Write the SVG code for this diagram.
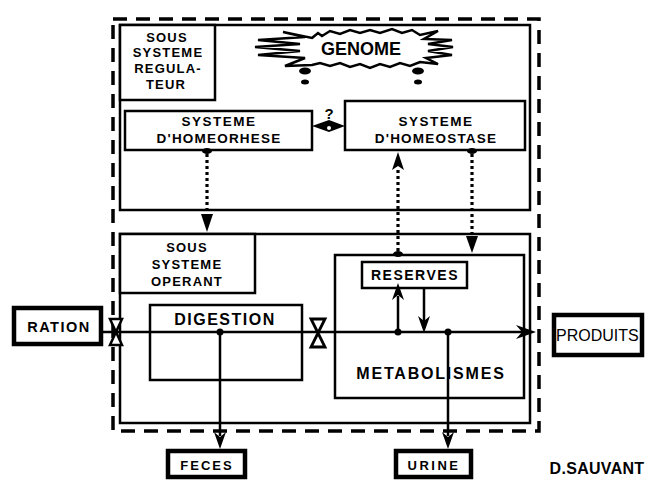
<svg xmlns="http://www.w3.org/2000/svg" width="655" height="480" viewBox="0 0 655 480">
<style>
.bx{fill:#fff;stroke:#000;stroke-width:2.5}
.tb{fill:#fff;stroke:#000;stroke-width:4.5}
.ln{fill:none;stroke:#000;stroke-width:2.5}
.dt{fill:none;stroke:#000;stroke-width:3.2;stroke-dasharray:3 3}
.t{font-family:"Liberation Sans",Arial,sans-serif;font-weight:bold;fill:#000;text-anchor:middle}
.hd{fill:#000}
</style>
<rect width="655" height="480" fill="#fff"/>
<rect id="frontiere" x="113" y="19" width="426" height="412" fill="none" stroke="#000" stroke-width="3.5" stroke-dasharray="14 9"/>
<g id="regulateur">
<rect class="bx" x="120" y="25" width="410" height="185"/>
<rect class="bx" x="120" y="25" width="95" height="75"/>
<text class="t" font-size="13" letter-spacing="1.2" x="167" y="42">SOUS</text>
<text class="t" font-size="13" letter-spacing="1.2" x="168" y="57">SYSTEME</text>
<text class="t" font-size="13" letter-spacing="1.2" x="168" y="73">REGULA-</text>
<text class="t" font-size="13" letter-spacing="1.2" x="166" y="89">TEUR</text>
</g>
<g id="genome">
<path d="M312,38 L318,33 322,36 330,31 340,34 350,30 360,33 370,30 380,33 392,29 402,33 412,30 420,35 L438,31 424,39 452,40 428,44 453,47 428,51 452,55 426,58 438,64 420,62 L410,66 400,63 390,67 380,64 370,68 360,64 350,67 340,63 330,66 320,63 312,65 L285,66 305,58 258,55 300,51 255,47 300,44 258,40 305,37 283,32 Z" fill="#fff" stroke="#000" stroke-width="2.5" stroke-linejoin="miter"/>
<text class="t" font-size="18" x="361" y="55">GENOME</text>
<ellipse cx="305" cy="71" rx="6" ry="3.5"/>
<ellipse cx="305" cy="82" rx="4" ry="2.5"/>
<ellipse cx="418" cy="71" rx="6" ry="3.5"/>
<ellipse cx="418" cy="82" rx="4" ry="2.5"/>
</g>
<g id="homeorhese">
<rect class="bx" x="125" y="111" width="187" height="39"/>
<text class="t" font-size="13.5" letter-spacing="1.5" x="219" y="126">SYSTEME</text>
<text class="t" font-size="13.5" letter-spacing="1.2" x="219" y="143">D'HOMEORHESE</text>
</g>
<g id="homeostase">
<rect class="bx" x="345" y="101" width="180" height="49"/>
<text class="t" font-size="13.5" letter-spacing="1.5" x="436" y="126">SYSTEME</text>
<text class="t" font-size="13.5" letter-spacing="1.2" x="436" y="143">D'HOMEOSTASE</text>
</g>
<g id="operant">
<rect class="bx" x="120" y="234" width="410" height="189"/>
<rect class="bx" x="120" y="234" width="135" height="59"/>
<text class="t" font-size="13" letter-spacing="1.2" x="187" y="252">SOUS</text>
<text class="t" font-size="13" letter-spacing="1.2" x="187" y="269">SYSTEME</text>
<text class="t" font-size="13" letter-spacing="1.2" x="187" y="286">OPERANT</text>
</g>
<g id="digestion">
<rect class="bx" x="150" y="305" width="152" height="75"/>
<text class="t" font-size="16" letter-spacing="1.5" x="225" y="325">DIGESTION</text>
</g>
<g id="metabolismes">
<rect class="bx" x="335" y="255" width="189" height="143"/>
<text class="t" font-size="16" letter-spacing="1.8" x="431" y="379">METABOLISMES</text>
</g>
<g id="reserves">
<rect class="bx" x="362" y="262" width="105" height="26"/>
<text class="t" font-size="14" letter-spacing="1.5" x="415" y="280">RESERVES</text>
</g>
<g id="ration">
<rect class="tb" x="14" y="308" width="87" height="36"/>
<text class="t" font-size="14.5" letter-spacing="1.5" x="59" y="332">RATION</text>
</g>
<g id="produits">
<rect class="tb" x="554" y="315" width="88" height="40"/>
<text font-family="'Liberation Sans',Arial,sans-serif" font-size="16" x="556" y="341">PRODUITS</text>
</g>
<g id="feces">
<rect class="tb" x="168" y="451" width="77" height="26"/>
<text class="t" font-size="13" letter-spacing="2" x="207" y="470">FECES</text>
</g>
<g id="urine">
<rect class="tb" x="396" y="451" width="75" height="26"/>
<text class="t" font-size="13" letter-spacing="2.5" x="434" y="470">URINE</text>
</g>
<text id="auteur" class="t" font-size="16" letter-spacing="0.3" x="597" y="474">D.SAUVANT</text>
<g id="connecteurs">
<line class="ln" x1="101" y1="332" x2="522" y2="332"/>
<path class="hd" d="M536,332 L516,325 522,332 516,339 Z"/>
<path d="M110,319 L122,319 116,332 Z M110,345 L122,345 116,332 Z" fill="#fff" stroke="#000" stroke-width="2.5" stroke-linejoin="miter"/>
<path d="M311,319 L325,319 318,333 Z M311,347 L325,347 318,333 Z" fill="#fff" stroke="#000" stroke-width="2.8" stroke-linejoin="miter"/>
<circle cx="220" cy="332" r="3.5"/>
<line class="ln" x1="220" y1="332" x2="220" y2="436"/>
<path class="hd" d="M220,449 L214,432 220,437 226,432 Z"/>
<circle cx="398" cy="332" r="3.5"/>
<line class="ln" x1="398" y1="332" x2="398" y2="296"/>
<path class="hd" d="M398,283 L392,300 398,295 404,300 Z"/>
<line class="ln" x1="424" y1="288" x2="424" y2="322"/>
<path class="hd" d="M424,333 L418,316 424,321 430,316 Z"/>
<circle cx="448" cy="332" r="3.5"/>
<line class="ln" x1="448" y1="332" x2="448" y2="436"/>
<path class="hd" d="M448,449 L442,432 448,437 454,432 Z"/>
<ellipse cx="207" cy="151" rx="5" ry="3"/>
<line class="dt" x1="207" y1="154" x2="207" y2="216"/>
<path class="hd" d="M207,232 L201,214 213,214 Z"/>
<ellipse cx="472" cy="151" rx="5" ry="3"/>
<line class="dt" x1="472" y1="154" x2="472" y2="238"/>
<path class="hd" d="M472,253 L466,236 478,236 Z"/>
<ellipse cx="398" cy="254" rx="5" ry="3"/>
<line class="dt" x1="398" y1="251" x2="398" y2="168"/>
<path class="hd" d="M398,152 L392,170 398,166 404,170 Z"/>
<path class="hd" d="M312,126 L329,120 345,126 329,132 Z"/>
<circle cx="329" cy="128" r="2" fill="#fff"/>
<text class="t" font-size="15" x="329" y="119">?</text>
</g>
</svg>
